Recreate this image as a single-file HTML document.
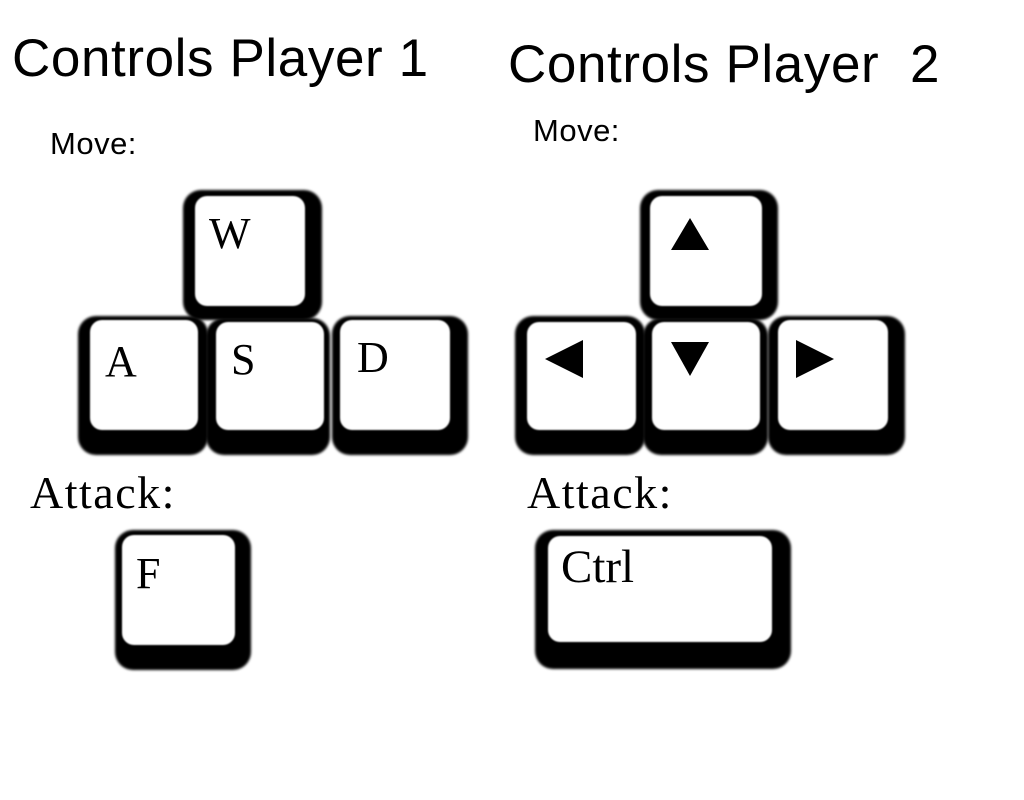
<!DOCTYPE html>
<html><head><style>
body{margin:0;width:1024px;height:800px;background:#fff;position:relative;overflow:hidden;font-family:"Liberation Sans",sans-serif}
.t{position:absolute;white-space:nowrap;color:#000}
.o{position:absolute;background:#000;border-radius:18px;filter:blur(1.2px)}
.i{position:absolute;background:#fff;border-radius:12px;filter:blur(0.8px)}
.k{position:absolute;font-family:"Liberation Serif",serif;font-size:44px;color:#000}
.tri{position:absolute;width:0;height:0}
</style></head><body>
<div class="t" style="left:12px;top:28px;font-size:53px;letter-spacing:0.6px">Controls Player 1</div>
<div class="t" style="left:508px;top:34px;font-size:53px;letter-spacing:0.6px">Controls Player&nbsp; 2</div>
<div class="t" style="left:50px;top:126px;font-size:31px;letter-spacing:0.5px">Move:</div>
<div class="t" style="left:533px;top:113px;font-size:31px;letter-spacing:0.5px">Move:</div>
<div class="t" style="left:30px;top:466px;font-size:46px;letter-spacing:1.5px;font-family:'Liberation Serif',serif">Attack:</div>
<div class="t" style="left:527px;top:466px;font-size:46px;letter-spacing:1.5px;font-family:'Liberation Serif',serif">Attack:</div>

<!-- WASD -->
<div class="o" style="left:183px;top:190px;width:139px;height:130px"></div>
<div class="o" style="left:78px;top:316px;width:130px;height:139px"></div>
<div class="o" style="left:206px;top:318px;width:124px;height:137px"></div>
<div class="o" style="left:332px;top:316px;width:136px;height:139px"></div>
<div class="i" style="left:195px;top:196px;width:110px;height:110px"></div>
<div class="i" style="left:90px;top:320px;width:108px;height:110px"></div>
<div class="i" style="left:216px;top:322px;width:108px;height:108px"></div>
<div class="i" style="left:340px;top:320px;width:110px;height:110px"></div>
<div class="k" style="left:209px;top:208px">W</div>
<div class="k" style="left:105px;top:336px">A</div>
<div class="k" style="left:231px;top:334px">S</div>
<div class="k" style="left:357px;top:332px">D</div>

<!-- arrows -->
<div class="o" style="left:640px;top:190px;width:138px;height:130px"></div>
<div class="o" style="left:515px;top:316px;width:130px;height:139px"></div>
<div class="o" style="left:643px;top:318px;width:125px;height:137px"></div>
<div class="o" style="left:768px;top:316px;width:137px;height:139px"></div>
<div class="i" style="left:650px;top:196px;width:112px;height:110px"></div>
<div class="i" style="left:527px;top:322px;width:109px;height:108px"></div>
<div class="i" style="left:652px;top:322px;width:108px;height:108px"></div>
<div class="i" style="left:778px;top:320px;width:110px;height:110px"></div>
<div class="tri" style="left:671px;top:218px;border-left:19px solid transparent;border-right:19px solid transparent;border-bottom:32px solid #000"></div>
<div class="tri" style="left:671px;top:342px;border-left:19px solid transparent;border-right:19px solid transparent;border-top:34px solid #000"></div>
<div class="tri" style="left:545px;top:340px;border-top:19px solid transparent;border-bottom:19px solid transparent;border-right:38px solid #000"></div>
<div class="tri" style="left:796px;top:340px;border-top:19px solid transparent;border-bottom:19px solid transparent;border-left:38px solid #000"></div>

<!-- F -->
<div class="o" style="left:115px;top:530px;width:136px;height:140px"></div>
<div class="i" style="left:122px;top:535px;width:113px;height:110px"></div>
<div class="k" style="left:136px;top:548px">F</div>

<!-- Ctrl -->
<div class="o" style="left:535px;top:530px;width:256px;height:139px"></div>
<div class="i" style="left:548px;top:536px;width:224px;height:106px"></div>
<div class="k" style="left:561px;top:540px;font-size:47px">Ctrl</div>
</body></html>
